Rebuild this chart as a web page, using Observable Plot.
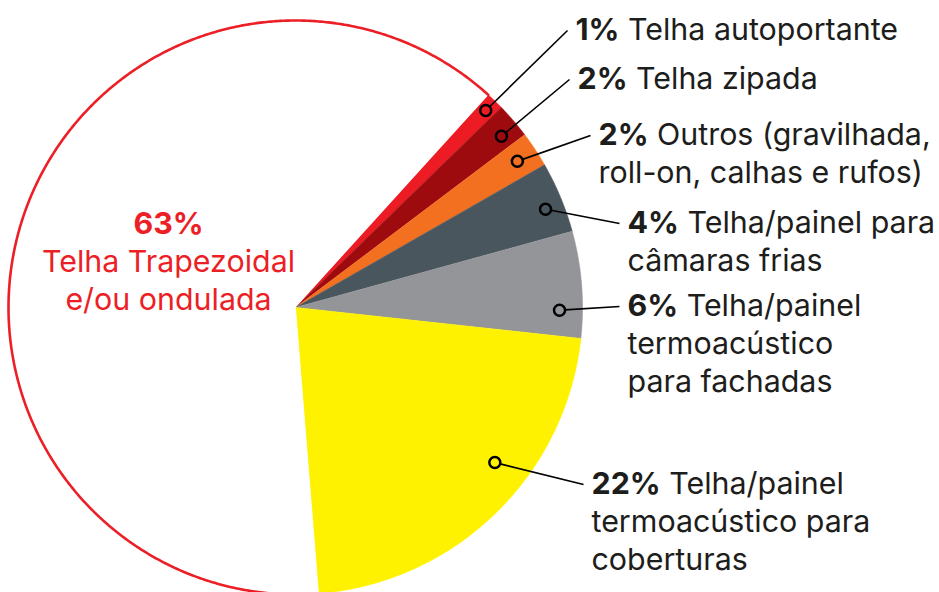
<!DOCTYPE html>
<html><head><meta charset="utf-8">
<script src="https://cdn.jsdelivr.net/npm/d3@7"></script>
<script src="https://cdn.jsdelivr.net/npm/@observablehq/plot@0.6"></script>
<style>
html,body{margin:0;padding:0;background:#fff;}
#chart svg{display:block;}
</style>
</head><body><div id="chart"></div>
<script>
// ---- data ----
const categories = [
  "Telha autoportante",
  "Telha zipada",
  "Outros (gravilhada, roll-on, calhas e rufos)",
  "Telha/painel para câmaras frias",
  "Telha/painel termoacústico para fachadas",
  "Telha/painel termoacústico para coberturas",
  "Telha Trapezoidal e/ou ondulada"
];
const shares = [1, 2, 2, 4, 6, 22, 63];
const labelLines = [
  ["Telha autoportante"],
  ["Telha zipada"],
  ["Outros (gravilhada,", "roll-on, calhas e rufos)"],
  ["Telha/painel para", "câmaras frias"],
  ["Telha/painel", "termoacústico", "para fachadas"],
  ["Telha/painel", "termoacústico para", "coberturas"],
  ["Telha Trapezoidal", "e/ou ondulada"]
];
const colors = ["#ed1c24", "#9e0b0f", "#f37021", "#4a565e", "#939598", "#fff200", "#ffffff"];

// ---- layout ----
const W = 939, H = 592, cx = 295, cy = 307, R = 287;
const startDeg = 42.2;
const FS = 30.4, LH = 38;
const textColor = "#1d1d1b", red = "#ec1f27";
// annotation layout: dot position within slice (t: fraction of angle, rf: fraction of radius), label anchor (px)
const annot = [
  {t: 0.5, rf: 0.954, lx: 575, ly: 39},
  {t: 0.62, rf: 0.933, lx: 577, ly: 88},
  {t: 0.5, rf: 0.926, lx: 598, ly: 144},
  {t: 0.58, rf: 0.936, lx: 627, ly: 232},
  {t: 0.74, rf: 0.92, lx: 627, ly: 315},
  {t: 0.40, rf: 0.88, lx: 591, ly: 493}
];
const centerLabel = {lx: 168, ly: 233};

const arcs = d3.pie().sort(null).value(d => d)
  .startAngle(startDeg * Math.PI / 180)
  .endAngle(startDeg * Math.PI / 180 + 2 * Math.PI)(shares);

const pt = (a, r) => ({x: r * Math.sin(a), y: -r * Math.cos(a)});

const slicePts = [];
const whiteArc = [];
arcs.forEach((a, i) => {
  const key = categories[i];
  slicePts.push({key, x: 0, y: 0});
  const n = Math.max(2, Math.ceil((a.endAngle - a.startAngle) / (0.4 * Math.PI / 180)));
  for (let k = 0; k <= n; ++k) {
    const ang = a.startAngle + (a.endAngle - a.startAngle) * k / n;
    const p = pt(ang, R);
    slicePts.push({key, ...p});
    if (i === arcs.length - 1) whiteArc.push(p);
  }
});

const DOT_R = 5.5;
const dots = annot.map((an, i) => {
  const a = arcs[i];
  const ang = a.startAngle + (a.endAngle - a.startAngle) * an.t;
  const p = pt(ang, R * an.rf);
  const ex = an.lx - cx - 8, ey = an.ly - cy - 9;
  const dx = ex - p.x, dy = ey - p.y, L = Math.hypot(dx, dy);
  return {x: p.x, y: p.y, x1: p.x + dx / L * DOT_R, y1: p.y + dy / L * DOT_R, x2: ex, y2: ey};
});

const firstLines = annot.map((an, i) => ({x: an.lx - cx, y: an.ly - cy, pct: `${shares[i]}%`, rest: labelLines[i][0], text: `${shares[i]}% ${labelLines[i][0]}`}));
const otherLines = [];
annot.forEach((an, i) => {
  labelLines[i].slice(1).forEach((t, j) => otherLines.push({x: an.lx - cx, y: an.ly - cy + LH * (j + 1), text: t}));
});
const ci = categories.length - 1;
const centerLines = labelLines[ci].map((t, j) => ({x: centerLabel.lx - cx, y: centerLabel.ly - cy + LH * (j + 1), text: t}));

const common = {fontSize: FS, fontFamily: "Inter, 'Noto Sans', sans-serif", lineAnchor: "bottom"};

const svg = Plot.plot({
  width: W, height: H,
  margin: 0,
  x: {domain: [-cx, W - cx], range: [0, W], axis: null},
  y: {domain: [-cy, H - cy], range: [0, H], axis: null},
  color: {domain: categories, range: colors},
  style: {background: "#fff", overflow: "visible"},
  marks: [
    Plot.line(slicePts, {x: "x", y: "y", z: "key", fill: "key", stroke: "key", strokeWidth: 0.6}),
    Plot.line(whiteArc, {x: "x", y: "y", stroke: red, strokeWidth: 2.6}),
    Plot.link(dots, {x1: "x1", y1: "y1", x2: "x2", y2: "y2", stroke: "#000", strokeWidth: 1.6}),
    Plot.dot(dots, {x: "x", y: "y", r: DOT_R, stroke: "#000", strokeWidth: 2.5, fill: "none"}),
    Plot.text(firstLines, {...common, x: "x", y: "y", text: "text", textAnchor: "start", fill: textColor}),
    Plot.text(otherLines, {...common, x: "x", y: "y", text: "text", textAnchor: "start", fill: textColor}),
    Plot.text([{x: centerLabel.lx - cx, y: centerLabel.ly - cy, text: `${shares[ci]}%`}], {...common, x: "x", y: "y", text: "text", textAnchor: "middle", fill: red, fontWeight: 700}),
    Plot.text(centerLines, {...common, x: "x", y: "y", text: "text", textAnchor: "middle", fill: red})
  ]
});

// bold percent at the start of each first label line
const firstMap = new Map(firstLines.map(d => [d.text, d]));
svg.querySelectorAll("text").forEach(t => {
  const d = firstMap.get(t.textContent);
  if (!d) return;
  t.textContent = "";
  const b = document.createElementNS("http://www.w3.org/2000/svg", "tspan");
  b.setAttribute("font-weight", "700");
  b.textContent = d.pct;
  const r = document.createElementNS("http://www.w3.org/2000/svg", "tspan");
  r.textContent = " " + d.rest;
  t.setAttribute("xml:space", "preserve");
  t.style.whiteSpace = "pre";
  t.appendChild(b); t.appendChild(r);
});

document.getElementById("chart").appendChild(svg);
</script>
</body></html>
